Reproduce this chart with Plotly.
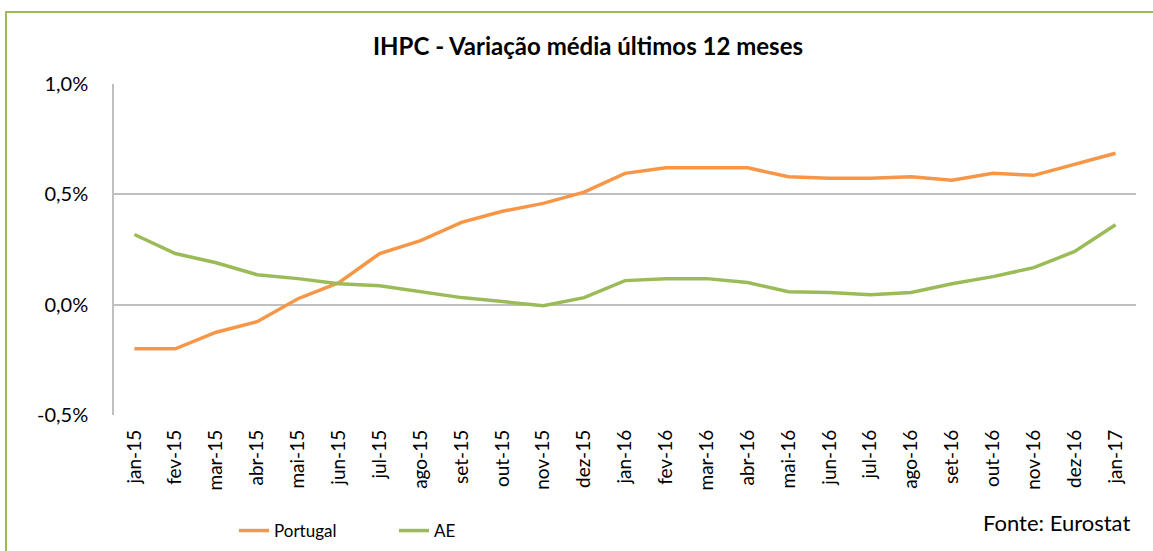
import plotly.graph_objects as go

categories = ["jan-15", "fev-15", "mar-15", "abr-15", "mai-15", "jun-15", "jul-15", "ago-15",
              "set-15", "out-15", "nov-15", "dez-15", "jan-16", "fev-16", "mar-16", "abr-16",
              "mai-16", "jun-16", "jul-16", "ago-16", "set-16", "out-16", "nov-16", "dez-16", "jan-17"]

portugal = [-0.0020, -0.0020, -0.00125, -0.00077, 0.00027, 0.0010, 0.00232, 0.0029,
            0.00373, 0.00423, 0.00459, 0.0051, 0.00595, 0.0062, 0.0062, 0.0062,
            0.0058, 0.00573, 0.00573, 0.0058, 0.00564, 0.00595, 0.00586, 0.00636, 0.00686]

ae = [0.00318, 0.00232, 0.0019, 0.00136, 0.00118, 0.00095, 0.00086, 0.00059,
      0.00032, 0.00014, -0.00005, 0.00032, 0.00109, 0.00118, 0.00118, 0.0010,
      0.00059, 0.00055, 0.00045, 0.00055, 0.00095, 0.00127, 0.00168, 0.00241, 0.00362]

y_ticks = [-0.005, 0.0, 0.005, 0.01]
y_tick_labels = ["-0,5%", "0,0%", "0,5%", "1,0%"]

title_text = "IHPC - Variação média últimos 12 meses"
source_text = "Fonte: Eurostat"

FONT = "Lato"

fig = go.Figure()
fig.add_trace(go.Scatter(x=categories, y=portugal, mode="lines", name="Portugal",
                         line=dict(color="#F79646", width=3.5)))
fig.add_trace(go.Scatter(x=categories, y=ae, mode="lines", name="AE",
                         line=dict(color="#9BBB59", width=3.5)))

W, H = 1153, 551
L, T = 114, 84
R = W - 1136
B = H - 415
pw, ph = W - L - R, H - T - B

def px(x):
    return (x - L) / pw

def py(y):
    return (H - B - y) / ph

fig.update_layout(
    width=W, height=H,
    margin=dict(l=L, r=R, t=T, b=B, autoexpand=False),
    paper_bgcolor="white", plot_bgcolor="white",
    separators=",.",
    font=dict(family=FONT, size=18, color="#000000"),
    title=dict(text="<b>" + title_text + "</b>", x=588 / W, xanchor="center",
               y=1 - 47 / H, yanchor="middle", font=dict(size=24, family=FONT)),
    showlegend=True,
    legend=dict(orientation="h", x=px(234), xanchor="left", y=py(531), yanchor="middle",
                entrywidth=115, entrywidthmode="pixels", font=dict(size=17),
                bgcolor="rgba(0,0,0,0)"),
    xaxis=dict(type="category", range=[-0.5, len(categories) - 0.5], tickangle=-90,
               showgrid=False, showline=False, ticks="", zeroline=False, automargin=False,
               ticklabelstandoff=10, tickfont=dict(size=19)),
    yaxis=dict(range=[-0.005, 0.01], tickvals=y_ticks, ticktext=y_tick_labels,
               showgrid=True, gridcolor="#C0C0C0", gridwidth=1.5,
               showline=True, linecolor="#C0C0C0", linewidth=1.5, automargin=False,
               zeroline=False, ticks="", ticklabelstandoff=20, tickfont=dict(size=20)),
    annotations=[dict(text=source_text, xref="paper", yref="paper", x=px(1132), y=py(522),
                      xanchor="right", yanchor="middle", showarrow=False,
                      font=dict(size=22, family=FONT))],
    shapes=[dict(type="rect", xref="paper", yref="paper",
                 x0=px(6), x1=px(1175), y0=py(12), y1=py(575),
                 line=dict(color="#9BBB59", width=2), fillcolor="rgba(0,0,0,0)", layer="below")],
)

fig.write_html("out.html", config={"displayModeBar": False},
               post_script="document.body.style.margin='0px';document.body.style.overflow='hidden';")
